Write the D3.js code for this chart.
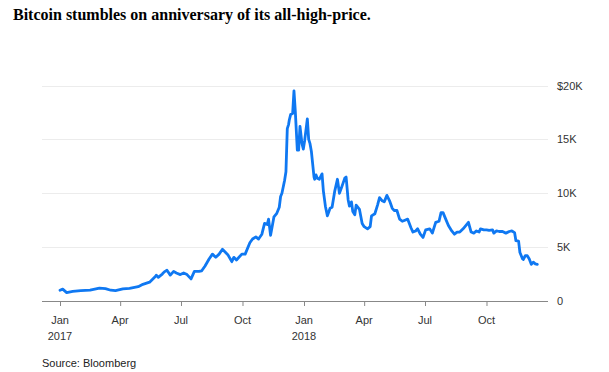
<!DOCTYPE html>
<html><head><meta charset="utf-8">
<script src="https://cdn.jsdelivr.net/npm/d3@7/dist/d3.min.js"></script>
<style>body{margin:0;background:#fff}svg{display:block}</style>
</head><body>
<svg id="c" width="609" height="372"></svg>
<script>
const title = "Bitcoin stumbles on anniversary of its all-high-price.";
const source = "Source: Bloomberg";
const dates = ["2017-01-01","2017-01-05","2017-01-11","2017-01-20","2017-02-01","2017-02-15","2017-03-01","2017-03-10","2017-03-18","2017-03-25","2017-04-05","2017-04-15","2017-04-28","2017-05-05","2017-05-15","2017-05-24","2017-05-25","2017-05-28","2017-06-03","2017-06-06","2017-06-10","2017-06-15","2017-06-20","2017-06-24","2017-06-30","2017-07-05","2017-07-10","2017-07-16","2017-07-21","2017-07-28","2017-08-01","2017-08-06","2017-08-12","2017-08-17","2017-08-22","2017-08-27","2017-09-01","2017-09-05","2017-09-09","2017-09-15","2017-09-18","2017-09-22","2017-09-30","2017-10-05","2017-10-12","2017-10-16","2017-10-21","2017-10-25","2017-10-30","2017-11-03","2017-11-07","2017-11-09","2017-11-12","2017-11-17","2017-11-21","2017-11-25","2017-11-27","2017-11-29","2017-12-03","2017-12-05","2017-12-07","2017-12-09","2017-12-10","2017-12-12","2017-12-15","2017-12-17","2017-12-19","2017-12-22","2017-12-24","2017-12-26","2017-12-29","2017-12-31","2018-01-02","2018-01-06","2018-01-08","2018-01-10","2018-01-12","2018-01-16","2018-01-17","2018-01-19","2018-01-21","2018-01-24","2018-01-28","2018-01-30","2018-02-02","2018-02-05","2018-02-09","2018-02-12","2018-02-16","2018-02-20","2018-02-23","2018-02-26","2018-03-03","2018-03-05","2018-03-08","2018-03-10","2018-03-13","2018-03-15","2018-03-18","2018-03-20","2018-03-25","2018-03-29","2018-04-01","2018-04-06","2018-04-10","2018-04-12","2018-04-17","2018-04-21","2018-04-24","2018-04-28","2018-05-01","2018-05-05","2018-05-09","2018-05-13","2018-05-16","2018-05-20","2018-05-24","2018-05-28","2018-06-01","2018-06-05","2018-06-10","2018-06-13","2018-06-17","2018-06-20","2018-06-24","2018-06-28","2018-07-02","2018-07-08","2018-07-12","2018-07-17","2018-07-22","2018-07-25","2018-07-28","2018-08-01","2018-08-05","2018-08-10","2018-08-14","2018-08-18","2018-08-22","2018-08-27","2018-09-04","2018-09-08","2018-09-12","2018-09-16","2018-09-20","2018-09-22","2018-09-27","2018-10-01","2018-10-05","2018-10-10","2018-10-12","2018-10-16","2018-10-20","2018-10-25","2018-10-30","2018-11-04","2018-11-08","2018-11-12","2018-11-14","2018-11-18","2018-11-20","2018-11-24","2018-11-25","2018-11-28","2018-12-01","2018-12-04","2018-12-07","2018-12-10","2018-12-13","2018-12-16"];
const prices = [1000,1100,780,890,970,1010,1200,1150,1000,960,1120,1180,1330,1550,1750,2300,2400,2200,2500,2700,2850,2400,2750,2600,2450,2600,2450,2050,2750,2750,2800,3250,3900,4350,4050,4350,4800,4550,4300,3650,4050,3800,4350,4350,5400,5750,5950,5750,6200,7200,7100,7600,6100,7800,8100,8700,9700,10000,11200,12000,16000,16400,16800,17300,17400,19500,17600,14000,14000,16200,14600,14100,14900,16900,15000,14600,13900,11500,11300,11700,11400,11300,11800,10200,8800,7900,8600,8700,10200,11300,10000,10500,11400,11500,9400,8800,9200,8300,8000,8900,8500,7200,6900,6700,6900,7900,8100,8900,9600,9300,9200,9800,9300,8600,8400,8400,7600,7400,7500,7600,6800,6400,6500,6700,6200,5900,6600,6700,6300,7300,7400,8200,8200,7600,7000,6500,6200,6400,6400,6700,7300,6400,6300,6500,6400,6700,6600,6600,6550,6600,6300,6500,6450,6450,6300,6450,6500,6350,5600,5550,4500,3900,3850,4200,4200,3900,3400,3600,3450,3400];
const yTicks = [0,5000,10000,15000,20000];
const yTickLabels = ["0","5K","10K","15K","$20K"];
const xTicks = ["2017-01-01","2017-04-01","2017-07-01","2017-10-01","2018-01-01","2018-04-01","2018-07-01","2018-10-01"];
const xTickLabels = ["Jan","Apr","Jul","Oct","Jan","Apr","Jul","Oct"];
const xYearLabels = ["2017","","","","2018","","",""];

const parse = d3.utcParse("%Y-%m-%d");
const data = dates.map((d,i)=>({date:parse(d), v:prices[i]}));
const svg = d3.select("#c");
const x = d3.scaleUtc().domain([parse("2017-01-01"), parse("2019-01-01")]).range([60, 548]);
const y = d3.scaleLinear().domain([0, 20000]).range([301, 85.5]);
const left = 42, right = 548;

svg.append("text").attr("x",13).attr("y",20).attr("font-family","Liberation Serif, Times New Roman, serif")
  .attr("font-weight","bold").attr("font-size",16).attr("fill","#000").text(title);

// gridlines
svg.append("g").selectAll("line").data(yTicks.slice(1)).join("line")
  .attr("x1",left).attr("x2",right).attr("y1",d=>Math.round(y(d))+0.5).attr("y2",d=>Math.round(y(d))+0.5)
  .attr("stroke","#ececec").attr("stroke-width",1);
// y labels
svg.append("g").selectAll("text").data(yTicks).join("text")
  .attr("x",557).attr("y",d=>y(d)+4).attr("font-family","Liberation Sans, Arial, sans-serif")
  .attr("font-size",11).attr("fill","#333").text((d,i)=>yTickLabels[i]);

// x axis
const xa = d3.axisBottom(x).tickValues(xTicks.map(parse)).tickSize(5).tickFormat("");
const gx = svg.append("g").attr("transform","translate(0,301)").call(xa);
gx.select(".domain").remove();
gx.selectAll(".tick line").attr("stroke","#888");
svg.append("line").attr("x1",left).attr("x2",right).attr("y1",301.5).attr("y2",301.5).attr("stroke","#888").attr("stroke-width",1);
svg.append("g").selectAll("text").data(xTicks).join("text")
  .attr("x",d=>x(parse(d))).attr("y",324).attr("text-anchor","middle")
  .attr("font-family","Liberation Sans, Arial, sans-serif").attr("font-size",11).attr("fill","#333")
  .text((d,i)=>xTickLabels[i]);
svg.append("g").selectAll("text").data(xTicks).join("text")
  .attr("x",d=>x(parse(d))).attr("y",340).attr("text-anchor","middle")
  .attr("font-family","Liberation Sans, Arial, sans-serif").attr("font-size",11).attr("fill","#333")
  .text((d,i)=>xYearLabels[i]);

// line
const line = d3.line().x(d=>x(d.date)).y(d=>y(d.v));
svg.append("path").datum(data).attr("d",line).attr("fill","none").attr("stroke","#0f78f2")
  .attr("stroke-width",2.8).attr("stroke-linejoin","round").attr("stroke-linecap","round");

svg.append("text").attr("x",42).attr("y",367).attr("font-family","Liberation Sans, Arial, sans-serif")
  .attr("font-size",11).attr("fill","#222").text(source);
</script>
</body></html>
